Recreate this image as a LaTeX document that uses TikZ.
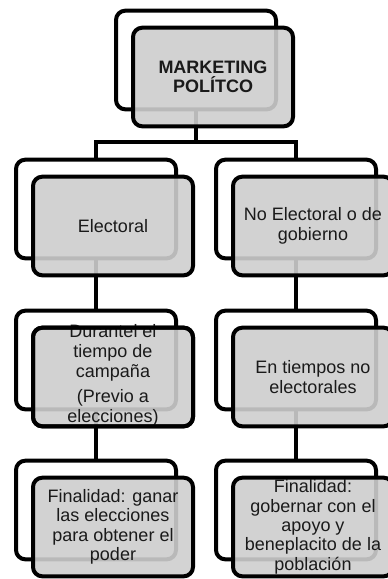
\documentclass[tikz,border=0pt]{standalone}
\usepackage{fontspec}
\setmainfont{Liberation Sans}
\usepackage{xcolor}
\usepackage{tikz}
\usetikzlibrary{positioning,calc}
\definecolor{cajagris}{HTML}{CECECE}
\definecolor{textooscuro}{HTML}{1A1A1A}
\tikzset{
  fondo/.style={draw=black, fill=white, line width=3pt, rounded corners=7pt,
    minimum width=120pt, minimum height=74pt},
  frente/.style={draw=black, fill=cajagris, fill opacity=0.9, text opacity=1,
    line width=3pt, rounded corners=7pt, inner sep=0pt, outer sep=0pt,
    minimum width=120pt, minimum height=74pt, align=center, text=textooscuro,
    font=\fontsize{13.5}{14.5}\selectfont},
  titulo/.style={font=\fontsize{13.5}{14}\selectfont\bfseries},
  texto/.style={align=center, text=textooscuro, inner sep=0pt,
    font=\fontsize{13.5}{15}\selectfont},
  borde/.style={draw=black, line width=3pt, rounded corners=7pt},
  conector/.style={draw=black, line width=3pt}
}
\begin{document}
\begin{tikzpicture}[x=0.75pt, y=-0.75pt]
        \useasboundingbox (0,0) rectangle (388,579);
        \clip (0,0) rectangle (388,579);
        % cajas de fondo
        \node[fondo] (mktb) at (196,60) {};
        \node[fondo] (elecb) at (96,209) {};
        \node[fondo] (noelecb) at (296,209) {};
        \node[fondo] (campb) at (96,360) {};
        \node[fondo] (tiemb) at (296,360) {};
        \node[fondo] (ganarb) at (96,510) {};
        \node[fondo] (gobb) at (296,510) {};

        % conectores
        \coordinate (bus) at (196,142);
        \draw[conector] (mktb.south) -- (bus);
        \draw[conector] (bus) -| (elecb.north);
        \draw[conector] (bus) -| (noelecb.north);
        \draw[conector] (elecb.south) -- (campb.north);
        \draw[conector] (campb.south) -- (ganarb.north);
        \draw[conector] (noelecb.south) -- (tiemb.north);
        \draw[conector] (tiemb.south) -- (gobb.north);

        % cajas de frente
        \node[frente, titulo] (mkt) at ([shift={(17,17)}]mktb.center) {MARKETING\\POLÍTCO};
        \node[frente] (elec) at ([shift={(17,17)}]elecb.center) {Electoral};
        \node[frente] (noelec) at ([shift={(17,17)}]noelecb.center) {No Electoral o de\\gobierno};
        \node[frente] (camp) at ([shift={(17,17)}]campb.center) {};
        \node[texto] (camptxt) at ([yshift=1pt]camp.center) {Durantel el\\tiempo de\\campaña\\[4pt](Previo a\\elecciones)};
        \draw[borde] (camp.north west) rectangle (camp.south east);
        \node[frente] (tiem) at ([shift={(17,17)}]tiemb.center) {En tiempos no\\electorales};
        \node[frente] (ganar) at ([shift={(17,17)}]ganarb.center) {Finalidad: ganar\\las elecciones\\para obtener el\\poder};
        \node[frente] (gob) at ([shift={(17,17)}]gobb.center) {Finalidad:\\gobernar con el\\apoyo y\\beneplacito de la\\población};
\end{tikzpicture}
\end{document}
